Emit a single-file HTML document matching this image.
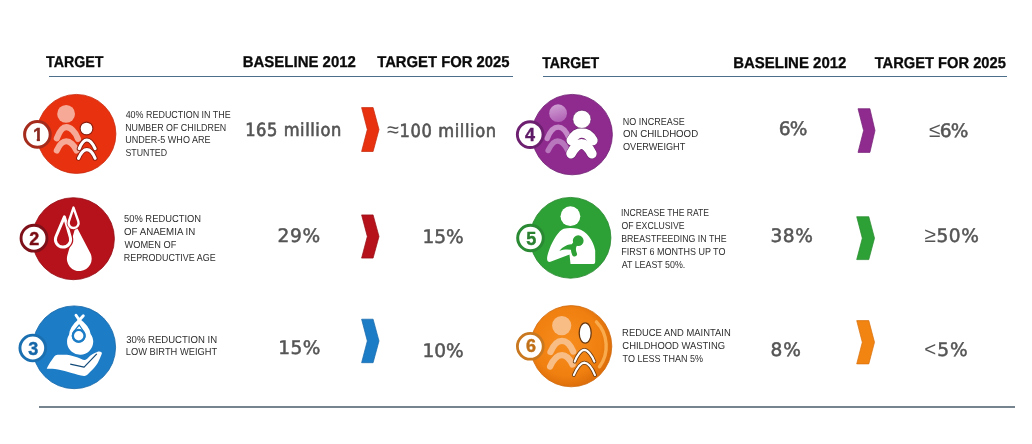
<!DOCTYPE html>
<html><head><meta charset="utf-8">
<style>
html,body{margin:0;padding:0;background:#fff;}
body{width:1032px;height:444px;position:relative;overflow:hidden;font-family:"Liberation Sans",sans-serif;}
.h,.d,.v,.vm{text-rendering:geometricPrecision;position:absolute;left:0;top:0;white-space:nowrap;line-height:1;transform-origin:0 0;}
.h{font-weight:bold;color:#0a0a0a;font-size:15.7px;-webkit-text-stroke:0.3px #0a0a0a;}
.d{color:#303030;font-size:10.2px;}
.v{font-family:"DejaVu Sans","Liberation Sans",sans-serif;color:#555;font-size:18.6px;-webkit-text-stroke:0.5px #555;}
.vm{font-family:"DejaVu Sans Condensed","DejaVu Sans","Liberation Sans",sans-serif;color:#555;font-size:18.1px;-webkit-text-stroke:0.6px #555;}
.sy{font-family:"Liberation Sans",sans-serif;-webkit-text-stroke:0;}
.ln{position:absolute;height:1.1px;background:#4d6f8c;}
svg{position:absolute;left:0;top:0;}
</style></head><body>
<div class="ln" style="left:48.5px;top:75.9px;width:464.5px"></div>
<div class="ln" style="left:542.8px;top:75.9px;width:464px"></div>
<div class="ln" style="left:39px;top:406px;width:976px;height:1.8px;background:#76848f"></div>
<div class="h" id="h1" style="transform:translate(46.05px,55.25px) rotate(0.001deg) scaleX(0.9075)">TARGET</div>
<div class="h" id="h2" style="transform:translate(242.75px,55.25px) rotate(0.001deg) scaleX(0.9544)">BASELINE 2012</div>
<div class="h" id="h3" style="transform:translate(377.20px,55.12px) rotate(0.001deg) scaleX(0.9454)">TARGET FOR 2025</div>
<div class="h" id="h4" style="transform:translate(542.20px,55.75px) rotate(0.001deg) scaleX(0.8999)">TARGET</div>
<div class="h" id="h5" style="transform:translate(733.20px,55.75px) rotate(0.001deg) scaleX(0.9544)">BASELINE 2012</div>
<div class="h" id="h6" style="transform:translate(874.65px,55.75px) rotate(0.001deg) scaleX(0.9371)">TARGET FOR 2025</div>
<div class="d" id="d1l1" style="transform:translate(125.65px,111.15px) rotate(0.001deg) scaleX(0.8770)">40% REDUCTION IN THE</div>
<div class="d" id="d1l2" style="transform:translate(125.15px,123.65px) rotate(0.001deg) scaleX(0.8711)">NUMBER OF CHILDREN</div>
<div class="d" id="d1l3" style="transform:translate(125.15px,136.15px) rotate(0.001deg) scaleX(0.8871)">UNDER-5 WHO ARE</div>
<div class="d" id="d1l4" style="transform:translate(125.40px,148.65px) rotate(0.001deg) scaleX(0.8646)">STUNTED</div>
<div class="d" id="d2l1" style="transform:translate(124.00px,214.80px) rotate(0.001deg) scaleX(0.9202)">50% REDUCTION</div>
<div class="d" id="d2l2" style="transform:translate(124.00px,227.90px) rotate(0.001deg) scaleX(0.9534)">OF ANAEMIA IN</div>
<div class="d" id="d2l3" style="transform:translate(124.50px,240.75px) rotate(0.001deg) scaleX(0.9066)">WOMEN OF</div>
<div class="d" id="d2l4" style="transform:translate(123.75px,253.85px) rotate(0.001deg) scaleX(0.8772)">REPRODUCTIVE AGE</div>
<div class="d" id="d3l1" style="transform:translate(126.25px,335.65px) rotate(0.001deg) scaleX(0.9381)">30% REDUCTION IN</div>
<div class="d" id="d3l2" style="transform:translate(125.75px,348.25px) rotate(0.001deg) scaleX(0.9145)">LOW BIRTH WEIGHT</div>
<div class="d" id="d4l1" style="transform:translate(622.75px,117.65px) rotate(0.001deg) scaleX(0.8839)">NO INCREASE</div>
<div class="d" id="d4l2" style="transform:translate(623.00px,130.33px) rotate(0.001deg) scaleX(0.9478)">ON CHILDHOOD</div>
<div class="d" id="d4l3" style="transform:translate(623.00px,143.26px) rotate(0.001deg) scaleX(0.8962)">OVERWEIGHT</div>
<div class="d" id="d5l1" style="transform:translate(620.90px,209.25px) rotate(0.001deg) scaleX(0.8451)">INCREASE THE RATE</div>
<div class="d" id="d5l2" style="transform:translate(621.40px,222.25px) rotate(0.001deg) scaleX(0.8506)">OF EXCLUSIVE</div>
<div class="d" id="d5l3" style="transform:translate(621.15px,235.25px) rotate(0.001deg) scaleX(0.8631)">BREASTFEEDING IN THE</div>
<div class="d" id="d5l4" style="transform:translate(621.15px,248.25px) rotate(0.001deg) scaleX(0.8830)">FIRST 6 MONTHS UP TO</div>
<div class="d" id="d5l5" style="transform:translate(621.65px,261.25px) rotate(0.001deg) scaleX(0.8713)">AT LEAST 50%.</div>
<div class="d" id="d6l1" style="transform:translate(622.10px,329.30px) rotate(0.001deg) scaleX(0.9242)">REDUCE AND MAINTAIN</div>
<div class="d" id="d6l2" style="transform:translate(622.35px,342.38px) rotate(0.001deg) scaleX(0.9245)">CHILDHOOD WASTING</div>
<div class="d" id="d6l3" style="transform:translate(622.60px,355.21px) rotate(0.001deg) scaleX(0.8853)">TO LESS THAN 5%</div>
<div class="vm" id="v1" style="transform:translate(245.20px,121.55px) rotate(0.001deg) scaleX(1.0000);letter-spacing:0.560px">165 million</div>
<div class="vm" id="t1" style="transform:translate(386.95px,122.70px) rotate(0.001deg) scaleX(1.0000);letter-spacing:0.614px"><span class="sy" style="font-size:1.2em;line-height:0">≈</span>100 million</div>
<div class="v" id="v2" style="transform:translate(277.45px,228.15px) rotate(0.001deg) scaleX(1.0000);letter-spacing:0.700px">29%</div>
<div class="v" id="t2" style="transform:translate(422.40px,228.90px) rotate(0.001deg) scaleX(1.0000);letter-spacing:-0.075px">15%</div>
<div class="v" id="v3" style="transform:translate(278.25px,339.95px) rotate(0.001deg) scaleX(1.0000);letter-spacing:0.375px">15%</div>
<div class="v" id="t3" style="transform:translate(422.40px,342.85px) rotate(0.001deg) scaleX(1.0000);letter-spacing:-0.075px">10%</div>
<div class="v" id="v4" style="transform:translate(778.85px,120.55px) rotate(0.001deg) scaleX(1.0000);letter-spacing:-0.850px">6%</div>
<div class="v" id="t4" style="transform:translate(929.10px,122.75px) rotate(0.001deg) scaleX(1.0000);letter-spacing:-0.800px"><span class="sy" style="font-size:1.12em;line-height:0">≤</span>6%</div>
<div class="v" id="v5" style="transform:translate(770.45px,228.15px) rotate(0.001deg) scaleX(1.0000);letter-spacing:0.550px">38%</div>
<div class="v" id="t5" style="transform:translate(924.60px,228.15px) rotate(0.001deg) scaleX(1.0000);letter-spacing:0.483px"><span class="sy" style="font-size:1.12em;line-height:0">≥</span>50%</div>
<div class="v" id="v6" style="transform:translate(770.55px,342.30px) rotate(0.001deg) scaleX(1.0000);letter-spacing:0.800px">8%</div>
<div class="v" id="t6" style="transform:translate(924.20px,342.30px) rotate(0.001deg) scaleX(1.0000);letter-spacing:1.025px"><span class="sy" style="font-size:1.1em;line-height:0">&lt;</span>5%</div>
<svg width="1032" height="444" viewBox="0 0 1032 444">
<defs>
<radialGradient id="g6" cx="0.45" cy="0.45" r="0.55"><stop offset="0" stop-color="#f78d1e"/><stop offset="0.75" stop-color="#f08010"/><stop offset="1" stop-color="#de6f0a"/></radialGradient>
<linearGradient id="g4" x1="0" y1="0" x2="0.3" y2="1"><stop offset="0" stop-color="#d3a5d6"/><stop offset="1" stop-color="#b264b6"/></linearGradient>
</defs>
<path fill="#e8320f" stroke="#c4260a" stroke-width="0.7" stroke-linejoin="round" d="M361.6 107.6H373.1L379.0 129.55L373.1 151.5H361.6L367.3 129.55Z"/>
<path fill="#b5121b" stroke="#950d15" stroke-width="0.7" stroke-linejoin="round" d="M361.6 214.9H373.1L379.0 236.5L373.1 258.09999999999997H361.6L367.3 236.5Z"/>
<path fill="#1c7cc6" stroke="#1769ab" stroke-width="0.7" stroke-linejoin="round" d="M361.6 319.2H373.1L379.0 340.95L373.1 362.7H361.6L367.3 340.95Z"/>
<path fill="#8f2b8f" stroke="#742176" stroke-width="0.7" stroke-linejoin="round" d="M858.0 108.7H869.9L875.0 130.55L869.9 152.39999999999998H858.0L863.5999999999999 130.55Z"/>
<path fill="#2ea136" stroke="#25892d" stroke-width="0.7" stroke-linejoin="round" d="M856.6999999999999 216.70000000000002H868.8L874.5 238.15L868.8 259.59999999999997H856.6999999999999L862.3 238.15Z"/>
<path fill="#f28411" stroke="#d8700c" stroke-width="0.7" stroke-linejoin="round" d="M856.6999999999999 320.6H868.8L874.5 342.25L868.8 363.9H856.6999999999999L862.3 342.25Z"/>
<circle cx="76.4" cy="133.9" r="39.5" fill="#e8320f" stroke="#c9280c" stroke-width="0.8"/>
<circle cx="66.1" cy="113.9" r="8.9" fill="#f6a996"/>
<g fill="none" stroke="#f6a996" stroke-width="6.1" stroke-linecap="round"><path d="M56.8 138.4C59.5 131 63 127.1 66.3 127.1C70 127.1 75 131 78 138.8"/><path d="M56.8 150.5C59.5 144.5 63 141.3 66.3 141.3C69.8 141.3 74 145 76.5 150.5"/></g>
<circle cx="86.5" cy="128.5" r="6.4" fill="#fff" stroke="#8a1d0e" stroke-width="1.1"/>
<g fill="none" stroke-linecap="round"><path d="M79.2 148.6C81.5 143 84.5 140 86.8 140C89.3 140 92.5 143 95.1 148.6" stroke="#8a1d0e" stroke-width="4.9"/><path d="M78.5 158.3C81 152.5 84.3 149.6 86.8 149.6C89.5 149.6 92.8 152.5 95.1 158.3" stroke="#8a1d0e" stroke-width="4.9"/><path d="M79.2 148.6C81.5 143 84.5 140 86.8 140C89.3 140 92.5 143 95.1 148.6" stroke="#fff" stroke-width="3.1"/><path d="M78.5 158.3C81 152.5 84.3 149.6 86.8 149.6C89.5 149.6 92.8 152.5 95.1 158.3" stroke="#fff" stroke-width="3.1"/></g>
<circle cx="37.4" cy="134.4" r="12.8" fill="#fff" stroke="#a52c1c" stroke-width="3.0"/>
<clipPath id="c1"><rect x="30.9" y="125.94999999999999" width="14" height="12.85"/><rect x="36.8" y="137.95" width="3.1" height="3.6"/></clipPath>
<text x="37.9" y="140.95" clip-path="url(#c1)" text-anchor="middle" font-family="Liberation Sans, sans-serif" font-weight="bold" font-size="18" fill="#8a2a20" stroke="#8a2a20" stroke-width="0.4">1</text>
<circle cx="73.4" cy="238.7" r="41" fill="#b5121b" stroke="#950d15" stroke-width="0.8"/>
<path fill="#fff" d="M75.90 225.60L90.27 252.93A12.40 12.40 0 1 1 67.38 255.28Z"/>
<path d="M64.40 216.80L70.31 237.41A7.60 7.60 0 1 1 56.01 236.52Z" fill="#b5121b" stroke="#b5121b" stroke-width="5.4" stroke-linejoin="round"/>
<path d="M64.40 216.80L70.31 237.41A7.60 7.60 0 1 1 56.01 236.52Z" fill="#b5121b" stroke="#fff" stroke-width="3" stroke-linejoin="round"/>
<path d="M73.50 207.60L78.32 221.35A5.00 5.00 0 1 1 68.86 221.41Z" fill="#b5121b" stroke="#b5121b" stroke-width="4" stroke-linejoin="round"/>
<path d="M73.50 207.60L78.32 221.35A5.00 5.00 0 1 1 68.86 221.41Z" fill="#b5121b" stroke="#fff" stroke-width="2.4" stroke-linejoin="round"/>
<circle cx="34" cy="238.2" r="12.95" fill="#fff" stroke="#7d1018" stroke-width="2.9000000000000004"/>
<text x="34.15" y="244.64999999999998" text-anchor="middle" font-family="Liberation Sans, sans-serif" font-weight="bold" font-size="18" fill="#7a0c14" stroke="#7a0c14" stroke-width="0.4">2</text>
<circle cx="74.2" cy="347.3" r="41.4" fill="#1c7cc6" stroke="#1567a8" stroke-width="0.8"/>
<path fill="#fff" d="M79.30 318.60Q89.53 326.09 90.63 333.91A13.10 13.10 0 1 1 69.06 334.65Q69.61 326.78 79.30 318.60Z"/>
<path d="M79.6 320.5L76 315.2M79 320.5L83.3 315.8" stroke="#fff" stroke-width="2.9" stroke-linecap="round"/>
<path d="M79.20 325.00L84.00 332.12A6.40 6.40 0 1 1 73.75 331.64Z" fill="none" stroke="#1c7cc6" stroke-width="1.2" stroke-linejoin="round"/>
<circle cx="78.7" cy="335.7" r="5.85" fill="#fff" stroke="#1c7cc6" stroke-width="2.3"/>
<path fill="#fff" d="M46.8 368.4C48.5 365 50 362.5 51.5 360.5C53.5 357.5 55 354.7 57.5 354.7L67 354.7C71 355.3 74.5 356.5 77.8 357.4C80.5 358.3 83 360.3 85 359.9C87 359.5 88.5 357 90.5 355.4C93 353.6 95.5 352.6 97.7 351.8C100 351 102.8 352.3 101.7 353.9C100.5 357 99.3 360 97.7 363C95.5 366.5 93 369 90.5 371.6C88.5 373.8 86.5 376.4 84.1 376.1C80 375.4 75.5 374.2 71.5 373.1C67 371.8 62.5 370.2 58 369.5C54 368.9 50 368.9 46.8 368.8Z"/>
<path d="M70.2 364.2L84.1 367.1L96.8 353.8" fill="none" stroke="#124a78" stroke-width="1.2" stroke-linejoin="round"/>
<circle cx="32.8" cy="348.0" r="12.850000000000001" fill="#fff" stroke="#1a6fb0" stroke-width="2.9000000000000004"/>
<text x="33.2" y="354.75" text-anchor="middle" font-family="Liberation Sans, sans-serif" font-weight="bold" font-size="18" fill="#1466a8" stroke="#1466a8" stroke-width="0.4">3</text>
<circle cx="572.2" cy="134.6" r="40.2" fill="#8f2b8f" stroke="#6f1f72" stroke-width="0.8"/>
<circle cx="558.1" cy="113.2" r="8.9" fill="url(#g4)"/>
<g fill="none" stroke="#c58bc9" stroke-width="5.4" stroke-linecap="round"><path d="M547.3 138.4C550 131 554 127.1 558.3 127.1C562.5 127.1 566 131 569 138"/><path d="M548.1 150.5C551 144.5 554.5 141 557.6 141C561 141 565 145 567.5 150" stroke="#b876bd"/></g>
<g fill="none" stroke-linecap="round"><path d="M571.4 140.4C574 135.5 578 132.8 581.7 132.8C585.5 132.8 590 135.5 592.8 140.4" stroke="#5a1a5e" stroke-width="10.6"/><path d="M571.1 153.6C574 148 578 144 581.5 144C585 144 589 148 591.8 153.6" stroke="#5a1a5e" stroke-width="10.6"/><path d="M571.4 140.4C574 135.5 578 132.8 581.7 132.8C585.5 132.8 590 135.5 592.8 140.4" stroke="#fff" stroke-width="9.8"/><path d="M571.1 153.6C574 148 578 144 581.5 144C585 144 589 148 591.8 153.6" stroke="#fff" stroke-width="9.8"/></g>
<circle cx="581.9" cy="119.3" r="9.1" fill="#fff" stroke="#5a1a5e" stroke-width="0.6"/>
<circle cx="530.2" cy="134.6" r="12.850000000000001" fill="#fff" stroke="#6d2070" stroke-width="2.9000000000000004"/>
<text x="530.1" y="141.14999999999998" text-anchor="middle" font-family="Liberation Sans, sans-serif" font-weight="bold" font-size="18" fill="#5e1a66" stroke="#5e1a66" stroke-width="0.4">4</text>
<circle cx="570.5" cy="237.8" r="40.4" fill="#2ea136" stroke="#24862c" stroke-width="0.8"/>
<circle cx="570.4" cy="216.2" r="9.9" fill="#fff"/>
<path fill="#fff" d="M563.7 228.8C559 230.5 553 240 549.5 248.9C548 253 547 257 547.1 258.4C547 261 548.5 262.3 550.5 261.8L569.5 254.6L570.5 263.9L593.4 263.9Q595.2 263.9 595.2 262L595.2 250.5C593 240 587 231.5 577.9 228.8C573 227.6 568 227.6 563.7 228.8Z"/>
<circle cx="578.2" cy="240.7" r="5.4" fill="#2ea136"/>
<path d="M574.6 244.5C573.2 247 573.2 251 574.5 254" fill="none" stroke="#2ea136" stroke-width="5" stroke-linecap="round"/>
<path d="M575 244C568 243.6 563 246.5 559.3 250.9C564 249 569 249 574 250.4Z" fill="#2ea136"/>
<circle cx="530.5" cy="238.0" r="12.8" fill="#fff" stroke="#2a8a33" stroke-width="3.0"/>
<text x="531.3" y="244.75" text-anchor="middle" font-family="Liberation Sans, sans-serif" font-weight="bold" font-size="18" fill="#2a8030" stroke="#2a8030" stroke-width="0.4">5</text>
<circle cx="571.2" cy="346.2" r="40.6" fill="url(#g6)" stroke="#cf6a0c" stroke-width="0.8"/>
<path d="M596.4 321.9A35 35 0 0 1 599.5 366.8" fill="none" stroke="#fcb458" stroke-width="3.4" stroke-linecap="round" opacity="0.85"/>
<circle cx="561.7" cy="325.6" r="9.6" fill="#f8bd84"/>
<g fill="none" stroke="#f8bd84" stroke-width="6.3" stroke-linecap="round"><path d="M550.5 351.9C553.5 345 557.5 340.8 562 340.8C566.5 340.8 570.5 345 573.2 351.5"/><path d="M550.1 366.6C553 360 557.5 355.1 562 355.1C566 355.1 570 359.5 572.5 364.5"/></g>
<ellipse cx="585.2" cy="333" rx="6" ry="10.2" fill="#fff" stroke="#6b3a10" stroke-width="1.3"/>
<g fill="none" stroke-linecap="round"><path d="M574.7 361.6C577 355.5 581 350 584.3 349.9C587.8 350 592 355.5 594.4 361.6" stroke="#6b3a10" stroke-width="3.8"/><path d="M573.8 375.1C576.5 369 580.5 362.8 584.3 362.6C588.3 362.8 592.5 369 595 375.1" stroke="#6b3a10" stroke-width="3.8"/><path d="M574.7 361.6C577 355.5 581 350 584.3 349.9C587.8 350 592 355.5 594.4 361.6" stroke="#fff" stroke-width="2.1"/><path d="M573.8 375.1C576.5 369 580.5 362.8 584.3 362.6C588.3 362.8 592.5 369 595 375.1" stroke="#fff" stroke-width="2.1"/></g>
<circle cx="530.3" cy="346.3" r="12.9" fill="#fff" stroke="#c9781f" stroke-width="2.8000000000000007"/>
<text x="530.9" y="352.45" text-anchor="middle" font-family="Liberation Sans, sans-serif" font-weight="bold" font-size="18" fill="#c07018" stroke="#c07018" stroke-width="0.4">6</text>
</svg>
</body></html>
